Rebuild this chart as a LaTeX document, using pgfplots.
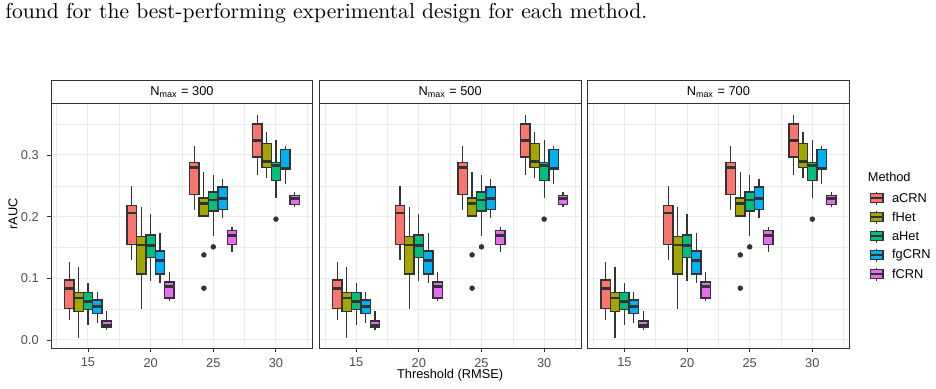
\documentclass[border=0pt]{standalone}
\usepackage{fontspec}
\usepackage{pgfplots}
\pgfplotsset{compat=1.18}
\newfontfamily\pf{Liberation Sans}
\definecolor{cA}{HTML}{F8766D}
\definecolor{cB}{HTML}{A3A500}
\definecolor{cC}{HTML}{00BF7D}
\definecolor{cD}{HTML}{00B0F6}
\definecolor{cE}{HTML}{E76BF3}
\definecolor{grey20}{HTML}{333333}
\definecolor{grey30}{HTML}{4D4D4D}
\definecolor{grey92}{HTML}{EBEBEB}
\newcommand\pfs{\pf\fontsize{6.4}{7.5}\selectfont}
% draw position, lower whisker, Q1, median, Q3, upper whisker, colour
\newcommand\bx[7]{%
\pgfmathsetmacro\xl{#1-0.375}\pgfmathsetmacro\xr{#1+0.375}%
\addplot[draw=grey20, line width=0.6pt, forget plot] coordinates {(#1,#2) (#1,#3)};
\addplot[draw=grey20, line width=0.6pt, forget plot] coordinates {(#1,#5) (#1,#6)};
\addplot[draw=grey20, fill=#7, line width=0.7pt, line join=miter, forget plot] coordinates {(\xl,#3) (\xr,#3) (\xr,#5) (\xl,#5)} -- cycle;
\addplot[draw=grey20, line width=1.4pt, forget plot] coordinates {(\xl,#4) (\xr,#4)};
}
\newcommand\allboxes{%
\bx{13.5}{0.032}{0.051}{0.083}{0.097}{0.127}{cA}
\bx{14.25}{0.004}{0.046}{0.068}{0.077}{0.119}{cB}
\bx{15}{0.024}{0.049}{0.063}{0.077}{0.093}{cC}
\bx{15.75}{0.028}{0.043}{0.054}{0.065}{0.078}{cD}
\bx{16.5}{0.016}{0.020}{0.024}{0.031}{0.047}{cE}
\bx{18.5}{0.130}{0.155}{0.206}{0.218}{0.250}{cA}
\bx{19.25}{0.051}{0.107}{0.154}{0.168}{0.216}{cB}
\bx{20}{0.096}{0.134}{0.153}{0.170}{0.204}{cC}
\bx{20.75}{0.093}{0.107}{0.129}{0.144}{0.173}{cD}
\bx{21.5}{0.063}{0.068}{0.087}{0.094}{0.110}{cE}
\bx{23.5}{0.211}{0.236}{0.280}{0.288}{0.314}{cA}
\bx{24.25}{0.200}{0.201}{0.221}{0.230}{0.272}{cB}
\bx{25}{0.169}{0.209}{0.227}{0.240}{0.268}{cC}
\bx{25.75}{0.198}{0.212}{0.229}{0.248}{0.261}{cD}
\bx{26.5}{0.142}{0.155}{0.170}{0.178}{0.184}{cE}
\bx{28.5}{0.268}{0.297}{0.323}{0.350}{0.365}{cA}
\bx{29.25}{0.263}{0.280}{0.289}{0.319}{0.338}{cB}
\bx{30}{0.231}{0.259}{0.283}{0.288}{0.325}{cC}
\bx{30.75}{0.253}{0.276}{0.278}{0.309}{0.314}{cD}
\bx{31.5}{0.215}{0.220}{0.230}{0.234}{0.240}{cE}
\addplot[only marks, mark=*, mark size=1.15pt, color=grey20, forget plot] coordinates {(24.25,0.138) (24.25,0.084) (25,0.151) (30,0.196)};
}
\pgfplotsset{
  panel/.style={
    scale only axis, width=130.95pt, height=122.5pt, anchor=south west,
    xmin=12.05, xmax=32.95, ymin=-0.0135, ymax=0.3838,
    xtick={15,20,25,30}, minor xtick={12.5,17.5,22.5,27.5,32.5},
    ytick={0,0.1,0.2,0.3}, minor ytick={0.05,0.15,0.25,0.35},
    grid=both,
    major grid style={draw=grey92, line width=0.5pt},
    minor grid style={draw=grey92, line width=0.3pt},
    axis line style={draw=grey20, line width=0.45pt},
    tick align=outside, major tick length=2pt, minor tick length=0pt,
    tick style={draw=grey20, line width=0.45pt},
    xtick pos=bottom, ytick pos=left,
    ticklabel style={font=\pfs, text=grey30},
    /pgf/number format/assume math mode=true,
    yticklabel style={/pgf/number format/fixed, /pgf/number format/precision=1, /pgf/number format/fixed zerofill, xshift=-0.6pt},
    xticklabel style={yshift=0.6pt},
    clip=true,
  },
  noy/.style={yticklabels={}, ytick style={draw=none}},
}
\begin{document}
\begin{tikzpicture}[x=0.5pt,y=-0.5pt]
\useasboundingbox (0,0) rectangle (936,388);
\node[anchor=base west, inner sep=0pt, font=\fontsize{10.8}{13}\selectfont] at (5,18) {found for the best-performing experimental design for each method.};
\begin{axis}[panel, at={(25.5pt,-174.15pt)}]
\allboxes
\end{axis}
\begin{axis}[panel, noy, at={(159.6pt,-174.15pt)}]
\allboxes
\end{axis}
\begin{axis}[panel, noy, at={(293.7pt,-174.15pt)}]
\allboxes
\end{axis}
% strips
\foreach \l/\t in {51/300, 319.2/500, 587.4/700}{
  \draw[grey20, line width=0.45pt, fill=white] (\l,80) rectangle ({\l+261.9},103.3);
  \node[font=\pfs, text=black, inner sep=0pt] at ({\l+130.95},91.7) {N\textsubscript{max} = \t};
}
% axis titles
\node[font=\pfs, anchor=base, inner sep=0pt] at (450.15,378.5) {Threshold (RMSE)};
\node[font=\pfs, rotate=90, inner sep=0pt] at (13,214) {rAUC};
% legend
\node[font=\pfs, anchor=west, inner sep=0pt] at (867.5,176.7) {Method};
\foreach \y/\c/\n in {198/cA/aCRN, 217/cB/fHet, 236/cC/aHet, 255/cD/fgCRN, 274/cE/fCRN}{
  \draw[grey20, line width=0.6pt] (876.75,\y-6.5) -- (876.75,\y+6.5);
  \draw[grey20, line width=0.6pt, fill=\c] (870.5,\y-4.5) rectangle (883,\y+4.5);
  \draw[grey20, line width=1.1pt] (870.5,\y) -- (883,\y);
  \node[font=\pfs, anchor=west, inner sep=0pt] at (891.7,\y) {\n};
}
\end{tikzpicture}
\end{document}
